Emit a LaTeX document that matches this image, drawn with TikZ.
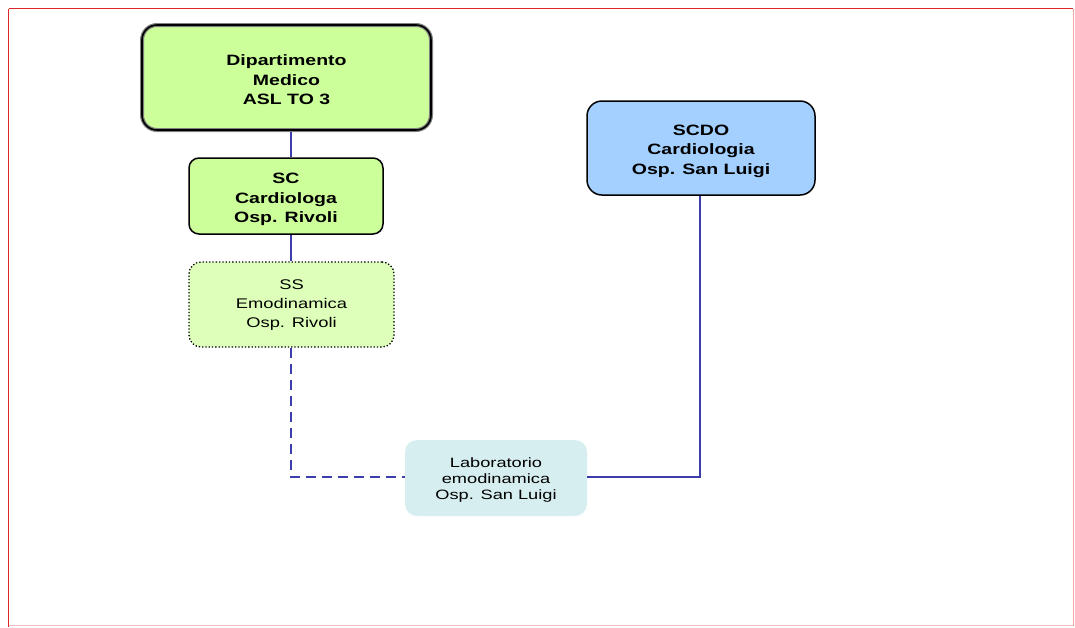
\documentclass[tikz,border=0pt]{standalone}
\usepackage{fontspec}
\setmainfont{Liberation Sans}
\newfontfamily\boxfont[FakeStretch=1.3]{Liberation Sans}
\newfontfamily\ssfont[FakeStretch=1.31]{Liberation Sans}
\newfontfamily\labfont[FakeStretch=1.35]{Liberation Sans}
\definecolor{dipgreen}{RGB}{204,255,153}
\definecolor{ssgreen}{RGB}{222,255,185}
\definecolor{scdoblue}{RGB}{163,208,255}
\definecolor{labcyan}{RGB}{214,238,240}
\definecolor{frame}{RGB}{220,40,40}
\definecolor{link}{RGB}{60,60,170}
\newcommand{\boxtext}[2]{\raisebox{-#1}[\height][\depth]{\begin{tabular}{@{}c@{}}#2\end{tabular}}}
\begin{document}
\begin{tikzpicture}[x=1pt,y=-1pt,
  box/.style={rounded corners=#1, align=center, inner sep=0pt},
  boldtxt/.style={font=\boxfont\fontsize{15}{19.5}\selectfont\bfseries},
  normtxt/.style={font=\ssfont\fontsize{14}{19}\selectfont},
  smalltxt/.style={font=\labfont\fontsize{13.5}{16}\selectfont},
  wire/.style={draw=link, line width=1.1pt}]
\useasboundingbox (0,0) rectangle (1075,627);
\draw[frame, line width=1.5pt] (8.5,8.5) -- (1073,8.5);
\draw[frame, line width=1.5pt] (8.5,8.5) -- (8.5,627);
\draw[frame!30, line width=1pt] (8.5,625.5) -- (1073,625.5);
\draw[frame!40, line width=0.6pt] (1073,8.5) -- (1073,625.5);

% Dipartimento
\node[box=15pt, boldtxt, minimum width=289pt, minimum height=105pt,
  fill=dipgreen, draw=gray, line width=4pt,
  postaction={draw=black, line width=1.6pt, rounded corners=15pt}]
  (dip) at (286.5,77.5) {\boxtext{4pt}{Dipartimento\\Medico\\ASL TO 3}};
% SC
\node[box=10pt, boldtxt, minimum width=194pt, minimum height=76pt,
  fill=dipgreen, draw=black, line width=1.5pt]
  (sc) at (286,196) {\boxtext{3.5pt}{SC\\Cardiologa\\Osp. Rivoli}};
% SS
\node[box=12pt, normtxt, minimum width=205pt, minimum height=85pt,
  fill=ssgreen, draw=black, line width=1.3pt, dotted]
  (ss) at (291.5,304.5) {\boxtext{0pt}{SS\\Emodinamica\\Osp. Rivoli}};
% SCDO
\node[box=15pt, boldtxt, minimum width=228pt, minimum height=94pt,
  fill=scdoblue, draw=black, line width=1.5pt]
  (scdo) at (701,148) {\boxtext{3pt}{SCDO\\Cardiologia\\Osp. San Luigi}};
% Lab
\node[box=12pt, smalltxt, minimum width=182pt, minimum height=76pt,
  fill=labcyan]
  (lab) at (496,478) {\boxtext{2pt}{Laboratorio\\emodinamica\\Osp. San Luigi}};

\coordinate (c1) at (291,477);
\coordinate (c2) at (700,477);
\draw[wire] (dip.south -| 291,0) -- (sc.north -| 291,0);
\draw[wire] (sc.south -| 291,0) -- (ss.north -| 291,0);
\draw[wire, dash pattern=on 10pt off 6pt] (ss.south -| 291,0) -- (c1) -- (lab.west |- c1);
\draw[wire] (scdo.south -| 700,0) -- (c2) -- (lab.east |- c2);
\end{tikzpicture}
\end{document}
